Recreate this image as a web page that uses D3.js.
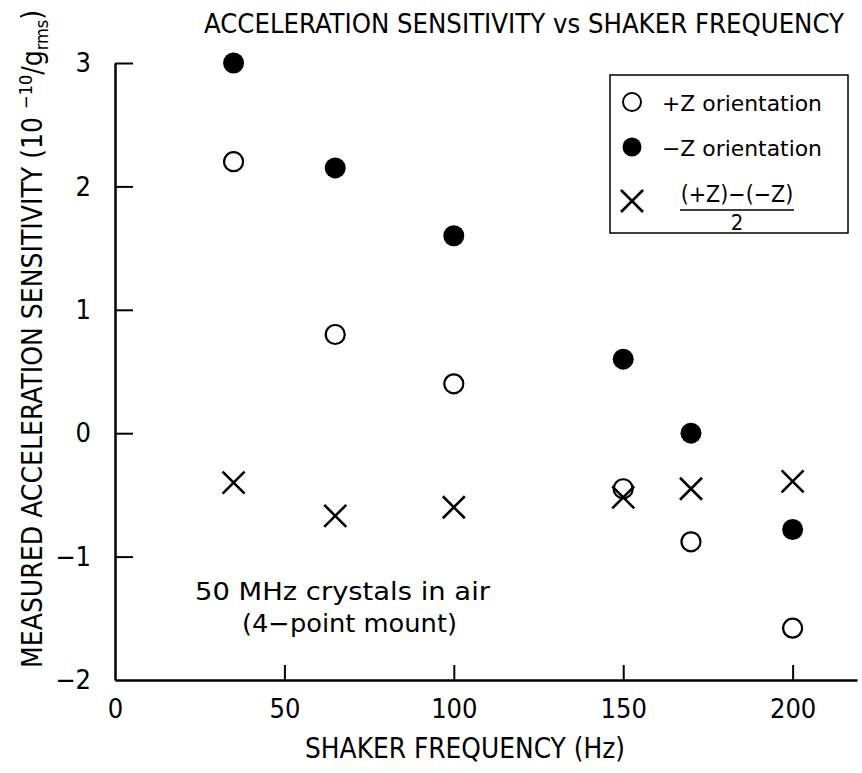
<!DOCTYPE html>
<html>
<head>
<meta charset="utf-8">
<script src="https://cdn.jsdelivr.net/npm/d3@7"></script>
<style>
  body { margin: 0; background: #fff; }
  svg { display: block; }
  text { font-family: "Liberation Sans Narrow", "DejaVu Sans Condensed", sans-serif; fill: #000; }
</style>
</head>
<body>
<div id="chart"></div>
<script>
// data
var freqs = [35, 65, 100, 150, 170, 200]
var plusZ = [2.2, 0.8, 0.4, -0.45, -0.88, -1.58]
var minusZ = [3.0, 2.15, 1.6, 0.6, 0.0, -0.78]
var halfDiff = [-0.4, -0.67, -0.6, -0.52, -0.45, -0.39]
var xTicks = [0, 50, 100, 150, 200]
var yTicks = [-2, -1, 0, 1, 2, 3]
var legendLabels = ['+Z orientation', '\u2212Z orientation']

var width = 862
var height = 773

var svg = d3.select('#chart').append('svg').attr('width', width).attr('height', height)

var x = d3.scaleLinear().domain([0, 219]).range([115, 857])
var y = d3.scaleLinear().domain([-2, 3]).range([680, 63])

// axes
var gx = svg.append('g').attr('transform', `translate(0, ${y(-2)})`)
  .call(d3.axisBottom(x).tickValues(xTicks).tickSizeInner(-15).tickSizeOuter(0).tickPadding(19))
gx.select('.domain').attr('stroke', '#000').attr('stroke-width', 2.5)
gx.selectAll('.tick line').attr('stroke', '#000').attr('stroke-width', 2)
gx.selectAll('.tick text').attr('font-size', 27).attr('fill', '#000')
gx.selectAll('.tick').filter(function(d) { return d == 0 }).select('line').remove()

var gy = svg.append('g').attr('transform', `translate(${x(0)}, 0)`)
  .call(d3.axisLeft(y).tickValues(yTicks).tickSizeInner(-18).tickSizeOuter(0).tickPadding(24)
    .tickFormat(function(d) { return d < 0 ? '\u2212' + Math.abs(d) : d }))
gy.select('.domain').attr('stroke', '#000').attr('stroke-width', 2.5)
gy.selectAll('.tick line').attr('stroke', '#000').attr('stroke-width', 2)
gy.selectAll('.tick text').attr('font-size', 27).attr('fill', '#000')
gy.selectAll('.tick').filter(function(d) { return d == -2 }).select('line').remove()

// title + axis labels
svg.append('text').attr('x', 204).attr('y', 33)
  .attr('font-size', 27).attr('textLength', 640).attr('lengthAdjust', 'spacingAndGlyphs')
  .text('ACCELERATION SENSITIVITY vs SHAKER FREQUENCY')

svg.append('text').attr('x', 305).attr('y', 758)
  .attr('font-size', 29).attr('textLength', 320).attr('lengthAdjust', 'spacingAndGlyphs')
  .text('SHAKER FREQUENCY (Hz)')

var ylab = svg.append('text').attr('transform', 'translate(42, 668) rotate(-90)')
  .attr('font-size', 28)
ylab.append('tspan').text('MEASURED ACCELERATION SENSITIVITY (10 ')
ylab.append('tspan').attr('font-size', 18).attr('dy', -10).text('\u221210')
ylab.append('tspan').attr('dy', 10).text('/g')
ylab.append('tspan').attr('font-size', 18).attr('dy', 6).text('rms')
ylab.append('tspan').attr('dy', -6).text(')')

// markers
var pts = freqs.map(function(f, i) { return { f: f, p: plusZ[i], m: minusZ[i], h: halfDiff[i] } })

function cross(g, cx, cy, s) {
  g.append('path')
    .attr('d', `M${cx - s},${cy - s}L${cx + s},${cy + s}M${cx - s},${cy + s}L${cx + s},${cy - s}`)
    .attr('stroke', '#000').attr('stroke-width', 2.6).attr('fill', 'none')
}

var marks = svg.append('g')
pts.forEach(function(d) {
  cross(marks, x(d.f), y(d.h), 11)
})
marks.selectAll('circle.open').data(pts).enter().append('circle')
  .attr('cx', function(d) { return x(d.f) })
  .attr('cy', function(d) { return y(d.p) })
  .attr('r', 9.5)
  .attr('fill', 'none').attr('stroke', '#000').attr('stroke-width', 2.2)
marks.selectAll('circle.fill').data(pts).enter().append('circle')
  .attr('cx', function(d) { return x(d.f) })
  .attr('cy', function(d) { return y(d.m) })
  .attr('r', 10.5)
  .attr('fill', '#000')

// legend
var lg = svg.append('g')
lg.append('rect').attr('x', 610).attr('y', 75).attr('width', 238).attr('height', 158)
  .attr('fill', '#fff').attr('stroke', '#000').attr('stroke-width', 1.5)
lg.append('circle').attr('cx', 632).attr('cy', 102).attr('r', 9)
  .attr('fill', 'none').attr('stroke', '#000').attr('stroke-width', 2)
lg.append('circle').attr('cx', 632).attr('cy', 147).attr('r', 9.5).attr('fill', '#000')
cross(lg, 632, 201, 11)
lg.selectAll('text.lab').data(legendLabels).enter().append('text')
  .attr('x', 662).attr('y', function(d, i) { return 111 + i * 45 })
  .attr('font-family', 'DejaVu Sans').attr('font-size', 22)
  .attr('textLength', 160).attr('lengthAdjust', 'spacingAndGlyphs')
  .text(function(d) { return d })
lg.append('text').attr('x', 737).attr('y', 202).attr('text-anchor', 'middle')
  .attr('font-family', 'DejaVu Sans').attr('font-size', 23).text('(+Z)\u2212(\u2212Z)')
lg.append('line').attr('x1', 680).attr('x2', 794).attr('y1', 210).attr('y2', 210)
  .attr('stroke', '#000').attr('stroke-width', 1.5)
lg.append('text').attr('x', 737).attr('y', 230).attr('text-anchor', 'middle')
  .attr('font-family', 'DejaVu Sans').attr('font-size', 22).text('2')

// note
svg.append('text').attr('x', 195).attr('y', 600)
  .attr('font-family', 'DejaVu Sans').attr('font-size', 25)
  .attr('textLength', 295).attr('lengthAdjust', 'spacingAndGlyphs').text('50 MHz crystals in air')
svg.append('text').attr('x', 242).attr('y', 632)
  .attr('font-family', 'DejaVu Sans').attr('font-size', 25)
  .attr('textLength', 215).attr('lengthAdjust', 'spacingAndGlyphs').text('(4\u2212point mount)')
</script>
</body>
</html>
